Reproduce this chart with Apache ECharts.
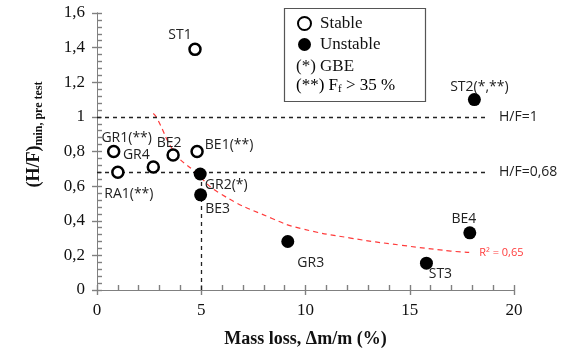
<!DOCTYPE html>
<html>
<head>
<meta charset="utf-8">
<title>H/F vs mass loss</title>
<script src="https://cdn.jsdelivr.net/npm/echarts@6/dist/echarts.min.js"></script>
<style>
  html, body { margin: 0; padding: 0; background: #fff; }
  #chart { width: 561px; height: 350px; }
</style>
</head>
<body>
<div id="chart"></div>
<script>
// stable tests (open circles)
const stableNames = ['ST1', 'GR1(**)', 'GR4', 'BE2', 'BE1(**)', 'RA1(**)']
const stableMassLoss = [4.7, 0.8, 2.7, 3.65, 4.8, 1.0]
const stableHF = [1.39, 0.8, 0.71, 0.78, 0.8, 0.68]

// unstable tests (filled circles)
const unstableNames = ['ST2(*,**)', 'GR2(*)', 'BE3', 'GR3', 'BE4', 'ST3']
const unstableMassLoss = [18.1, 4.95, 4.97, 9.15, 17.88, 15.8]
const unstableHF = [1.1, 0.67, 0.55, 0.28, 0.33, 0.155]

// red dashed trend curve
const trendX = [2.7, 2.84, 3.75, 4.63, 5.91, 8.4, 9.76, 12.16, 14.57, 16.97, 17.85]
const trendY = [1.02, 1.0, 0.79, 0.69, 0.557, 0.413, 0.356, 0.3, 0.259, 0.225, 0.217]

// reference lines H/F
const refValues = [1, 0.68]
const refLabels = ['H/F=1', 'H/F=0,68']
const refEndX = 18.8
const criticalMassLoss = 5

// label offsets (px, from point centre to label centre)
const labelOffsets = {
  'ST1': [-15, -14],
  'GR1(**)': [13, -13],
  'GR4': [-17, -12],
  'BE2': [-4, -12],
  'BE1(**)': [32, -6],
  'RA1(**)': [11, 22],
  'ST2(*,**)': [5, -13],
  'GR2(*)': [26, 11],
  'BE3': [17, 14],
  'GR3': [23, 21],
  'BE4': [-6, -14],
  'ST3': [14, 11]
}

const serif = '"Liberation Serif", "DejaVu Serif", serif'
const sans = '"Open Sans", "Liberation Sans", sans-serif'
const axisGrey = '#808080'
const tickStyle = { color: axisGrey, width: 1.4 }

function toPoints(names, xs, ys) {
  return names.map((n, i) => {
    return {
      name: n,
      value: [xs[i], ys[i]],
      label: { offset: labelOffsets[n] }
    }
  })
}

const pointLabel = {
  show: true,
  position: 'inside',
  formatter: (p) => p.name,
  fontFamily: sans,
  fontSize: 14,
  color: '#222'
}

// helper axes that only draw the outer half of the major ticks
function tickAxis(min, max, step, pos) {
  return {
    type: 'value',
    min: min,
    max: max,
    interval: step,
    position: pos,
    axisLine: { show: true, onZero: false, lineStyle: { color: axisGrey } },
    axisLabel: { show: false },
    axisTick: { show: true, length: 5, lineStyle: tickStyle },
    splitLine: { show: false }
  }
}

const chart = echarts.init(document.getElementById('chart'))

const option = {
  animation: false,
  grid: { left: 97, right: 47, top: 13, bottom: 60, outerBoundsMode: 'none' },
  legend: {
    orient: 'vertical',
    left: 292,
    top: 10,
    itemWidth: 13,
    itemHeight: 13,
    itemGap: 4,
    data: ['Stable', 'Unstable'],
    textStyle: { fontFamily: serif, fontSize: 17, color: '#111', padding: [0, 0, 0, 4] }
  },
  graphic: [
    {
      type: 'rect',
      left: 282,
      top: 6,
      shape: { width: 141, height: 93 },
      style: { fill: 'none', stroke: '#555', lineWidth: 1.2 },
      z: 1
    },
    {
      type: 'text',
      left: 296,
      top: 58,
      style: { text: '(*) GBE', font: '17px ' + serif, fill: '#111' }
    },
    {
      type: 'text',
      left: 296,
      top: 77,
      style: {
        text: '{a|(**) F}{b|f}{a| > 35 %}',
        rich: {
          a: { fontFamily: serif, fontSize: 17, color: '#111' },
          b: { fontFamily: serif, fontSize: 11, color: '#111', padding: [8, 0, 0, 0] }
        }
      }
    }
  ],
  xAxis: [
    {
      type: 'value',
      min: 0,
      max: 20,
      interval: 5,
      position: 'bottom',
      name: 'Mass loss, Δm/m (%)',
      nameLocation: 'middle',
      nameGap: 40,
      nameTextStyle: { fontFamily: serif, fontSize: 18, fontWeight: 'bold', color: '#111' },
      axisLine: { show: true, lineStyle: { color: axisGrey } },
      axisTick: { show: true, inside: true, length: 5, lineStyle: tickStyle },
      minorTick: { show: true, splitNumber: 5, length: 5, lineStyle: tickStyle },
      axisLabel: { fontFamily: serif, fontSize: 17, color: '#111', margin: 12 },
      splitLine: { show: false }
    },
    tickAxis(0, 20, 5, 'bottom')
  ],
  yAxis: [
    {
      type: 'value',
      min: 0,
      max: 1.6,
      interval: 0.2,
      position: 'left',
      name: '{a|(H/F)}{b|min, pre test}',
      nameLocation: 'middle',
      nameGap: 52,
      nameRotate: 90,
      nameTextStyle: {
        padding: [0, 0, 0, 34],
        rich: {
          a: { fontFamily: serif, fontSize: 18, fontWeight: 'bold', color: '#111' },
          b: { fontFamily: serif, fontSize: 12, fontWeight: 'bold', color: '#111', padding: [9, 0, 0, 0] }
        }
      },
      axisLine: { show: true, lineStyle: { color: axisGrey } },
      axisTick: { show: true, inside: true, length: 5, lineStyle: tickStyle },
      minorTick: { show: true, splitNumber: 5, length: 5, lineStyle: tickStyle },
      axisLabel: {
        fontFamily: serif,
        fontSize: 17,
        color: '#111',
        margin: 12,
        formatter: (v) => String(Math.round(v * 10) / 10).replace('.', ',')
      },
      splitLine: { show: false }
    },
    tickAxis(0, 1.6, 0.2, 'left')
  ],
  series: [
    {
      name: 'refs',
      type: 'line',
      data: [],
      silent: true,
      markLine: {
        symbol: 'none',
        silent: true,
        lineStyle: { color: '#222', type: [4, 4], width: 1.3 },
        label: {
          show: true,
          position: 'end',
          distance: 10,
          fontFamily: sans,
          fontSize: 14,
          color: '#222'
        },
        data: refValues.map((v, i) => [
          { coord: [0, v], name: refLabels[i], label: { formatter: refLabels[i] } },
          { coord: [refEndX, v] }
        ]).concat([[
          { coord: [criticalMassLoss, 0], label: { show: false } },
          { coord: [criticalMassLoss, refValues[1]] }
        ]])
      }
    },
    {
      name: 'trend',
      type: 'line',
      smooth: true,
      showSymbol: false,
      silent: true,
      data: trendX.map((x, i) => [x, trendY[i]]),
      lineStyle: { color: '#ff3b3b', type: [5, 4], width: 1.2 },
      endLabel: {
        show: true,
        formatter: 'R² = 0,65',
        fontFamily: sans,
        fontSize: 11,
        color: '#ff3b3b',
        distance: 10
      },
      z: 3
    },
    {
      name: 'Stable',
      type: 'scatter',
      symbol: 'circle',
      symbolSize: 11,
      itemStyle: { color: '#fff', borderColor: '#000', borderWidth: 2.5, opacity: 1 },
      label: pointLabel,
      data: toPoints(stableNames, stableMassLoss, stableHF),
      z: 5
    },
    {
      name: 'Unstable',
      type: 'scatter',
      symbol: 'circle',
      symbolSize: 13,
      itemStyle: { color: '#000', opacity: 1 },
      label: pointLabel,
      data: toPoints(unstableNames, unstableMassLoss, unstableHF),
      z: 5
    }
  ]
}

chart.setOption(option)
</script>
</body>
</html>
